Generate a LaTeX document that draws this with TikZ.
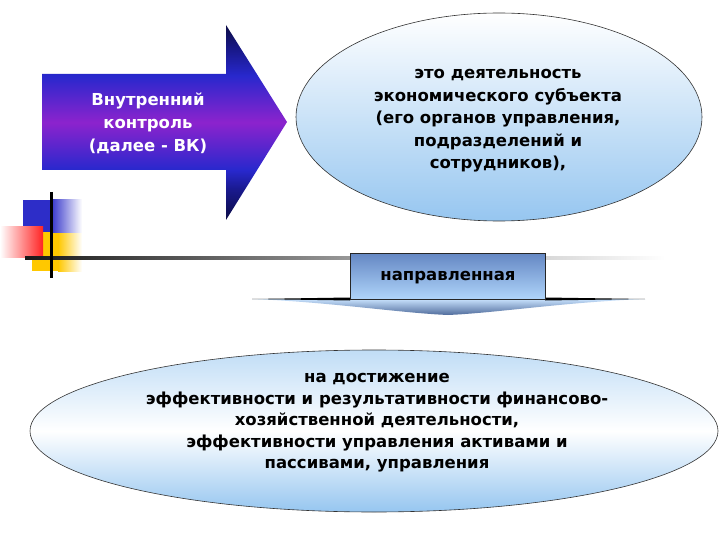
\documentclass[tikz,border=0pt]{standalone}
\usepackage{fontspec}
\setmainfont{DejaVu Sans}
\usetikzlibrary{shapes.geometric}
\definecolor{an0}{RGB}{12,12,70}
\definecolor{an1}{RGB}{25,25,140}
\definecolor{ab}{RGB}{40,40,205}
\definecolor{ap}{RGB}{140,35,205}
\definecolor{l0}{RGB}{25,25,25}
\definecolor{l1}{RGB}{150,150,150}
\definecolor{l2}{RGB}{245,245,245}
\definecolor{ellb}{RGB}{150,198,240}
\definecolor{sqblue}{RGB}{45,45,200}
\definecolor{sqred}{RGB}{255,35,35}
\definecolor{sqyel}{RGB}{255,200,0}
\definecolor{boxtop}{RGB}{100,135,195}
\definecolor{boxbot}{RGB}{175,212,250}
\pgfdeclareverticalshading{arrowshade}{100bp}{color(0bp)=(an0); color(25bp)=(an0); color(32.7bp)=(an1); color(37.8bp)=(ab); color(50bp)=(ap); color(62bp)=(ab); color(68.5bp)=(an1); color(75bp)=(an0); color(100bp)=(an0)}
\pgfdeclarehorizontalshading{lineshade}{100bp}{color(0bp)=(l0); color(25bp)=(l0); color(50bp)=(l1); color(75bp)=(white); color(100bp)=(white)}
\tikzset{
  txt/.style={font=\bfseries\fontsize{16.5}{23}\selectfont, align=center, inner sep=0pt},
  ellbox/.style={ellipse, draw=black!80, line width=0.6pt, inner sep=0pt, top color=white, bottom color=ellb}
}
\begin{document}
\begin{tikzpicture}[x=1pt,y=-1pt]
\useasboundingbox (0,0) rectangle (720,540);
% decoration squares
\fill[sqyel] (32,232) rectangle (58,271);
\shade[left color=sqyel, right color=white] (58,232) rectangle (82,271);
\fill[sqblue] (23,200) rectangle (50,232);
\shade[left color=sqblue, right color=white] (50,200) rectangle (82,232);
\shade[left color=white, right color=sqred] (0,227) rectangle (43,257);
\shade[shading=lineshade] (25,256.5) rectangle (665,259.5);
\draw[black, line width=3pt] (51,192) -- (51,278);
% arrow
\shade[shading=arrowshade] (42,74) -- (226,74) -- (226,25) -- (287,122) -- (226,220) -- (226,170) -- (42,170) -- cycle;
\node[txt, text=white] (vk) at (148,123) {Внутренний\\контроль\\(далее - ВК)};
% top ellipse
\node[ellbox, minimum width=406pt, minimum height=208pt] (e1) at (499,117) {};
\node[txt, font=\bfseries\fontsize{16.5}{22.5}\selectfont] (t1) at (498,121) {это деятельность\\экономического субъекта\\(его органов управления,\\подразделений и\\сотрудников),};
% chevron
\shade[top color=boxbot!70!white, bottom color=boxtop!80!black] (252,299) .. controls (330,302) and (400,313) .. (448,315) .. controls (496,313) and (566,302) .. (645,299) -- cycle;
\fill[black] (252,299) -- (350,297.5) -- (350,300.5) -- cycle;
\fill[black] (645,299) -- (545,297.5) -- (545,300.5) -- cycle;
\node[draw=black!85, line width=0.8pt, top color=boxtop, bottom color=boxbot, minimum width=195pt, minimum height=46pt, inner sep=0pt] (nap) at (447.5,276) {};
\node[txt] (tn) at (448,278) {направленная};
% bottom ellipse
\node[ellbox, minimum width=688pt, minimum height=162pt, top color=ellb!60!white, bottom color=ellb, middle color=white] (e2) at (374,431) {};
\node[txt, font=\bfseries\fontsize{16.5}{21.5}\selectfont] (t2) at (377,423) {на достижение\\эффективности и результативности финансово-\\хозяйственной деятельности,\\эффективности управления активами и\\пассивами, управления};
\end{tikzpicture}
\end{document}
